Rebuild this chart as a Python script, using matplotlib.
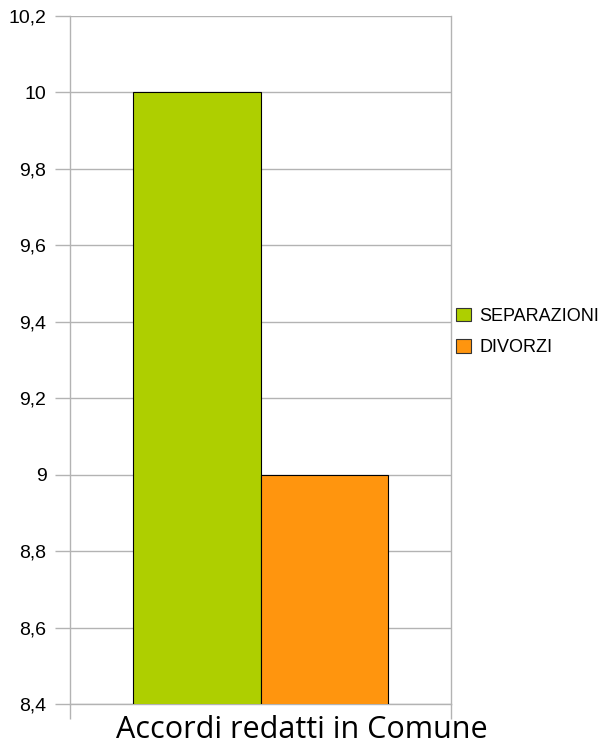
import numpy as np
import matplotlib.pyplot as plt

# data
category = "Accordi redatti in Comune"
series = ["SEPARAZIONI", "DIVORZI"]
values = [10, 9]
colors = ["#aecf00", "#ff950e"]
yticks = [8.4, 8.6, 8.8, 9.0, 9.2, 9.4, 9.6, 9.8, 10.0, 10.2]

W, H = 611, 746
fig = plt.figure(figsize=(W / 100, H / 100), dpi=100)
ax = fig.add_axes([70 / W, 1 - 704 / H, 381 / W, 688 / H])

grid_col = "#b3b3b3"
x = np.array([-0.5, 0.5])
bars = ax.bar(x, values, width=1.0, bottom=0, color=colors,
              edgecolor="black", linewidth=0.8, label=series, zorder=3)
ax.set_xlim(-1.49, 1.49)
ax.set_ylim(8.4, 10.2)

ax.set_yticks(yticks)
ax.set_yticklabels([f"{t:g}".replace(".", ",") for t in yticks],
                   fontsize=14, family="Liberation Sans")
ax.yaxis.grid(True, color=grid_col, linewidth=1, zorder=0)
ax.tick_params(axis="y", length=11, width=1, color=grid_col, pad=6)

ax.set_xticks([-1.49, 1.49])
ax.set_xticklabels([])
ax.tick_params(axis="x", length=11, width=1, color=grid_col, direction="out")

for side in ["left", "right", "bottom", "top"]:
    ax.spines[side].set_color(grid_col)
    ax.spines[side].set_linewidth(1)
ax.spines["top"].set_visible(False)

fig.text(302 / W, 1 - 730 / H, category, ha="center", va="center",
         fontsize=22, family="Open Sans")

handles = [plt.Rectangle((0, 0), 1, 1, facecolor=c, edgecolor="#333333",
                         linewidth=0.8) for c in colors]
fig.legend(handles, series, loc="center left",
           bbox_to_anchor=(449 / W, 1 - 332 / H), frameon=False,
           prop={"family": "Liberation Sans", "size": 13},
           handlelength=0.8, handleheight=0.8, handletextpad=0.5,
           labelspacing=0.8, borderaxespad=0)

fig.savefig("out.png", dpi=100)
